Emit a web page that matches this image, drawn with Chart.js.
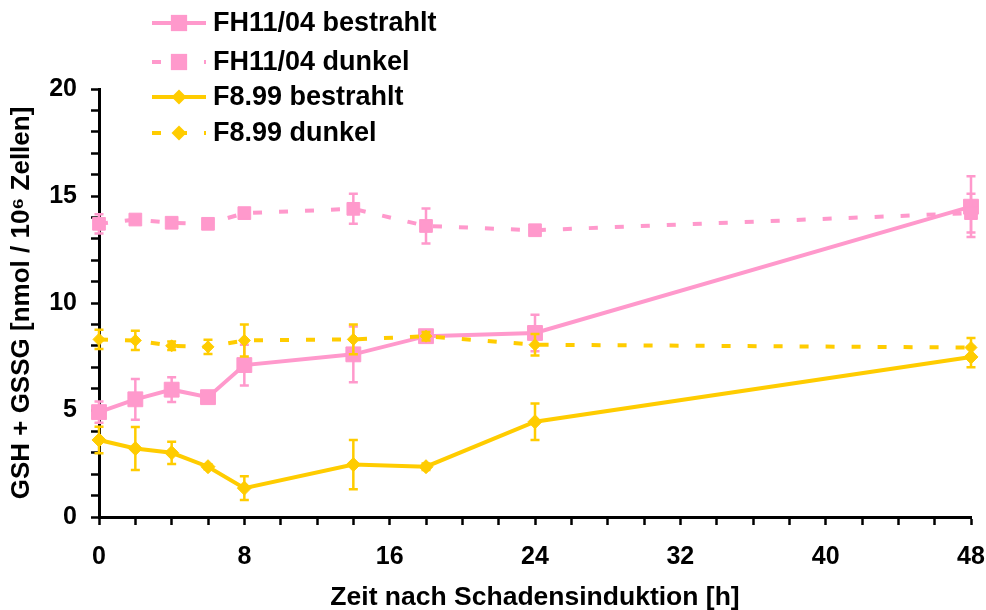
<!DOCTYPE html>
<html>
<head>
<meta charset="utf-8">
<script src="https://cdn.jsdelivr.net/npm/chart.js@4.4.1/dist/chart.umd.min.js"></script>
<style>
  html, body { margin: 0; padding: 0; background: #fff; }
  #wrap { width: 986px; height: 610px; }
</style>
</head>
<body>
<div id="wrap"><canvas id="grafico"></canvas></div>
<script>
const zeiten = [0, 2, 4, 6, 8, 14, 18, 24, 48];
const xTicks = [0, 8, 16, 24, 32, 40, 48];
const yTicks = [0, 5, 10, 15, 20];

const fhBestrahlt = [4.9, 5.5, 5.95, 5.6, 7.1, 7.6, 8.45, 8.6, 14.5];
const fhBestrahltErr = [0.5, 0.95, 0.58, 0.1, 0.95, 1.3, 0.25, 0.85, 1.42];
const fhDunkel = [13.7, 13.9, 13.75, 13.7, 14.2, 14.4, 13.6, 13.4, 14.2];
const fhDunkelErr = [0.45, 0.15, 0.15, 0.1, 0.15, 0.7, 0.82, 0.1, 0.9];
const f8Bestrahlt = [3.6, 3.2, 3.0, 2.35, 1.35, 2.45, 2.35, 4.45, 7.48];
const f8BestrahltErr = [0.62, 1.0, 0.52, 0.12, 0.55, 1.15, 0.15, 0.85, 0.48];
const f8Dunkel = [8.3, 8.25, 8.0, 7.95, 8.25, 8.3, 8.45, 8.05, 7.92];
const f8DunkelErr = [0.45, 0.45, 0.2, 0.33, 0.75, 0.7, 0.2, 0.5, 0.44];

const ROSA = '#ff99cc';
const GELB = '#ffcc00';
const FONT = "'Liberation Sans', Arial, sans-serif";

const punkte = (werte) => zeiten.map((t, i) => ({ x: t, y: werte[i] }));

// Fehlerbalken vor jedem Datensatz zeichnen
const fehlerbalken = {
  id: 'fehlerbalken',
  beforeDatasetDraw(chart, args) {
    const ds = chart.data.datasets[args.index];
    if (!ds.fehler) return;
    const y = chart.scales.y;
    const ctx = chart.ctx;
    ctx.save();
    ctx.strokeStyle = ds.borderColor;
    ctx.lineWidth = 2.5;
    args.meta.data.forEach((pt, i) => {
      const v = ds.data[i].y;
      const oben = y.getPixelForValue(v + ds.fehler[i]);
      const unten = y.getPixelForValue(v - ds.fehler[i]);
      ctx.beginPath();
      ctx.moveTo(pt.x, oben); ctx.lineTo(pt.x, unten);
      ctx.moveTo(pt.x - 4.5, oben); ctx.lineTo(pt.x + 4.5, oben);
      ctx.moveTo(pt.x - 4.5, unten); ctx.lineTo(pt.x + 4.5, unten);
      ctx.stroke();
    });
    ctx.restore();
  }
};

// Legende oben links mit Linie + Symbol
const legende = {
  id: 'legende',
  afterDraw(chart) {
    const ctx = chart.ctx;
    const zeilen = [23, 62, 97, 133];
    chart.data.datasets.forEach((ds, i) => {
      const y = zeilen[i];
      ctx.save();
      ctx.strokeStyle = ds.borderColor;
      ctx.lineWidth = 4;
      ctx.setLineDash(ds.borderDash || []);
      ctx.beginPath();
      ctx.moveTo(152, y);
      ctx.lineTo(206, y);
      ctx.stroke();
      ctx.setLineDash([]);
      ctx.fillStyle = ds.pointBackgroundColor;
      ctx.strokeStyle = ds.pointBackgroundColor;
      Chart.helpers.drawPoint(ctx, {
        pointStyle: ds.pointStyle,
        radius: ds.pointStyle === 'rect' ? 11.5 : 7.5,
        rotation: 0,
        borderWidth: 0
      }, 179, y);
      ctx.fillStyle = '#000';
      ctx.font = `bold 27px ${FONT}`;
      ctx.textBaseline = 'middle';
      ctx.textAlign = 'left';
      ctx.fillText(ds.label, 213, y + 1);
      ctx.restore();
    });
  }
};

new Chart(document.getElementById('grafico'), {
  type: 'line',
  data: {
    datasets: [
      {
        label: 'FH11/04 bestrahlt',
        data: punkte(fhBestrahlt),
        fehler: fhBestrahltErr,
        borderColor: ROSA,
        pointBackgroundColor: ROSA,
        pointBorderColor: ROSA,
        borderWidth: 4,
        pointStyle: 'rect',
        pointRadius: 10.5,
        order: 3
      },
      {
        label: 'FH11/04 dunkel',
        data: punkte(fhDunkel),
        fehler: fhDunkelErr,
        borderColor: ROSA,
        pointBackgroundColor: ROSA,
        pointBorderColor: ROSA,
        borderWidth: 4,
        borderDash: [9, 17],
        pointStyle: 'rect',
        pointRadius: 9,
        order: 2
      },
      {
        label: 'F8.99 bestrahlt',
        data: punkte(f8Bestrahlt),
        fehler: f8BestrahltErr,
        borderColor: GELB,
        pointBackgroundColor: GELB,
        pointBorderColor: GELB,
        borderWidth: 4,
        pointStyle: 'rectRot',
        pointRadius: 7,
        order: 1
      },
      {
        label: 'F8.99 dunkel',
        data: punkte(f8Dunkel),
        fehler: f8DunkelErr,
        borderColor: GELB,
        pointBackgroundColor: GELB,
        pointBorderColor: GELB,
        borderWidth: 4,
        borderDash: [9, 17],
        pointStyle: 'rectRot',
        pointRadius: 6,
        order: 0
      }
    ]
  },
  options: {
    responsive: true,
    maintainAspectRatio: false,
    animation: false,
    datasets: { line: { clip: false, tension: 0, pointBorderWidth: 1 } },
    layout: { padding: { top: 89, right: 15, left: 0, bottom: 0 } },
    plugins: {
      legend: { display: false },
      tooltip: { enabled: false }
    },
    scales: {
      x: {
        type: 'linear',
        min: 0,
        max: 48,
        afterFit: (s) => { s.height = 93; s.paddingRight = 0; s.paddingLeft = 0; },
        ticks: {
          stepSize: 2,
          autoSkip: false,
          maxRotation: 0,
          padding: 17,
          color: '#000',
          font: { family: FONT, size: 25, weight: 'bold' },
          callback: (v) => xTicks.includes(v) ? String(v) : ''
        },
        grid: { drawOnChartArea: false, drawTicks: true, tickLength: 8, tickWidth: 2.5, tickColor: '#000' },
        border: { color: '#000', width: 3 },
        title: {
          display: true,
          text: 'Zeit nach Schadensinduktion [h]',
          color: '#000',
          font: { family: FONT, size: 26.5, weight: 'bold', lineHeight: 1 },
          padding: { top: 0, bottom: -1 }
        }
      },
      y: {
        min: 0,
        max: 20,
        afterFit: (s) => { s.width = 99; },
        ticks: {
          stepSize: 1,
          autoSkip: false,
          padding: 14,
          color: '#000',
          font: { family: FONT, size: 25, weight: 'bold' },
          callback: (v) => yTicks.includes(v) ? String(v) : ''
        },
        grid: { drawOnChartArea: false, drawTicks: true, tickLength: 8, tickWidth: 2.5, tickColor: '#000' },
        border: { color: '#000', width: 3 },
        title: {
          display: true,
          text: 'GSH + GSSG [nmol / 10⁶ Zellen]',
          color: '#000',
          font: { family: FONT, size: 26, weight: 'bold', lineHeight: 1 },
          padding: { top: 9, bottom: 0 }
        }
      }
    }
  },
  plugins: [fehlerbalken, legende]
});
</script>
</body>
</html>
